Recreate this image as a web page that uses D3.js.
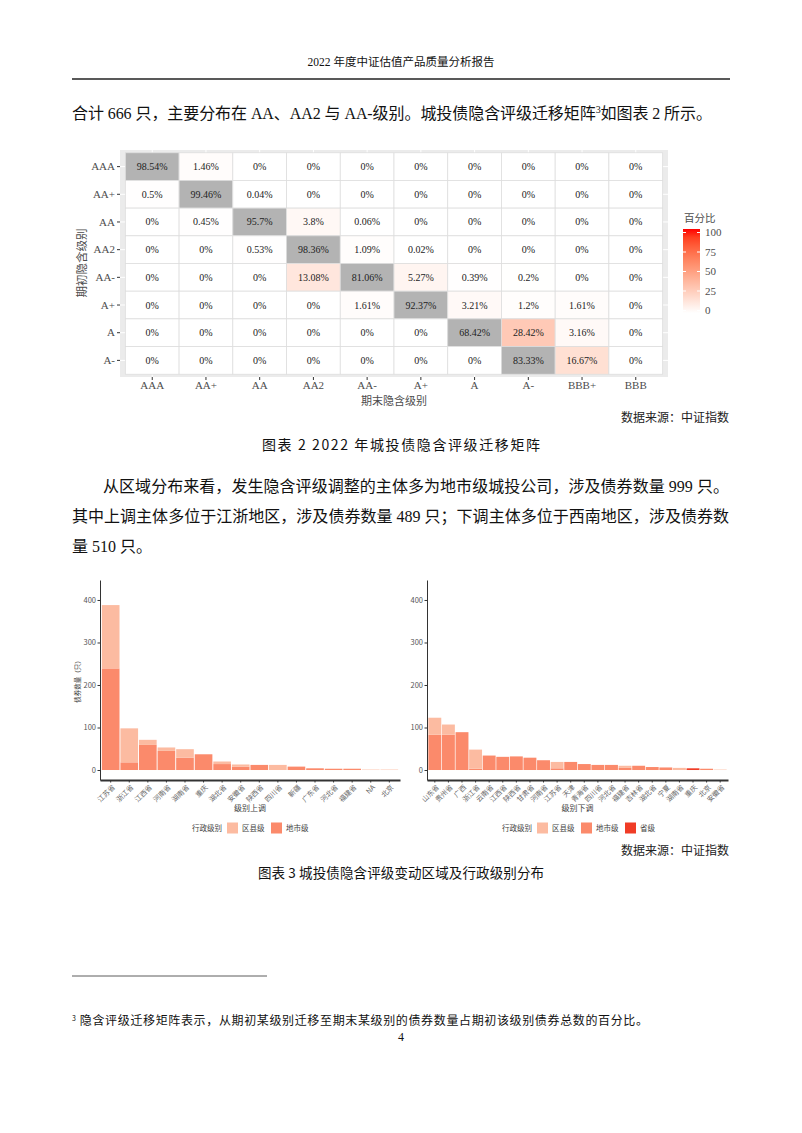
<!DOCTYPE html>
<html><head><meta charset="utf-8">
<script src="https://cdn.jsdelivr.net/npm/d3@7"></script>
<style>body{margin:0;background:#fff} svg{display:block}</style>
</head><body>
<svg id="page" width="802" height="1133"></svg>
<script>
// ---------- data ----------
const rowLevels = ["AAA","AA+","AA","AA2","AA-","A+","A","A-"];
const colLevels = ["AAA","AA+","AA","AA2","AA-","A+","A","A-","BBB+","BBB"];
const migration = [
  [98.54, 1.46, 0, 0, 0, 0, 0, 0, 0, 0],
  [0.5, 99.46, 0.04, 0, 0, 0, 0, 0, 0, 0],
  [0, 0.45, 95.7, 3.8, 0.06, 0, 0, 0, 0, 0],
  [0, 0, 0.53, 98.36, 1.09, 0.02, 0, 0, 0, 0],
  [0, 0, 0, 13.08, 81.06, 5.27, 0.39, 0.2, 0, 0],
  [0, 0, 0, 0, 1.61, 92.37, 3.21, 1.2, 1.61, 0],
  [0, 0, 0, 0, 0, 0, 68.42, 28.42, 3.16, 0],
  [0, 0, 0, 0, 0, 0, 0, 83.33, 16.67, 0]
];
const legendTicks = [0, 25, 50, 75, 100];

const upProvinces = ["江苏省","浙江省","江西省","河南省","湖南省","重庆","湖北省","安徽省","陕西省","四川省","新疆","广东省","河北省","福建省","NA","北京"];
const upCity   = [239, 18, 59, 45, 29, 37, 14, 8, 12, 0, 8, 4, 3, 3, 0, 0];
const upCounty = [149, 80, 12, 8, 20, 0, 6, 5, 0, 12, 0, 0, 0, 0, 1, 1];
const upProv   = [0, 0, 0, 0, 0, 0, 0, 0, 0, 0, 0, 0, 0, 0, 0, 0];

const downProvinces = ["山东省","贵州省","广西","浙江省","云南省","江西省","陕西省","甘肃省","河南省","江苏省","天津","青海省","四川省","河北省","福建省","吉林省","湖北省","宁夏","湖南省","重庆","北京","安徽省"];
const downCity   = [83, 83, 89, 3, 34, 31, 32, 29, 23, 4, 19, 14, 12, 12, 5, 10, 7, 6, 0, 0, 3, 0];
const downCounty = [40, 24, 0, 45, 0, 0, 0, 0, 0, 15, 0, 0, 0, 0, 5, 0, 0, 0, 5, 0, 0, 1];
const downProv   = [0, 0, 0, 0, 0, 0, 0, 0, 0, 0, 0, 0, 0, 0, 0, 0, 0, 0, 0, 4, 0, 0];

const barTicks = [0, 100, 200, 300, 400];
const adminLevels = ["区县级","地市级","省级"];

// ---------- page ----------
const svg = d3.select("#page");
const SERIF = "'Liberation Serif','Noto Sans CJK SC',serif";
const CJK = "'Noto Sans CJK SC','Liberation Serif',sans-serif";

function txt(x, y, s, opt = {}) {
  const t = svg.append("text").attr("x", x).attr("y", y)
    .attr("font-family", opt.family || SERIF)
    .attr("font-size", opt.size || 16)
    .attr("fill", opt.fill || "#111")
    .attr("text-anchor", opt.anchor || "start")
    .text(s);
  if (opt.len) t.attr("textLength", opt.len).attr("lengthAdjust", "spacing");
  return t;
}

txt(401, 66, "2022 年度中证估值产品质量分析报告", {size: 11.5, anchor: "middle"});
svg.append("line").attr("x1", 72).attr("x2", 730).attr("y1", 79).attr("y2", 79)
  .attr("stroke", "#222").attr("stroke-width", 1.3);

const p1 = svg.append("text").attr("x", 72).attr("y", 119)
  .attr("font-family", SERIF).attr("font-size", 16).attr("fill", "#111")
  .attr("textLength", 640).attr("lengthAdjust", "spacing");
p1.append("tspan").text("合计 666 只，主要分布在 AA、AA2 与 AA-级别。城投债隐含评级迁移矩阵");
p1.append("tspan").attr("font-size", 10).attr("dy", -6).text("3");
p1.append("tspan").attr("dy", 6).text("如图表 2 所示。");

// ---------- heatmap ----------
const hx = d3.scaleBand().domain(colLevels).range([120, 668]).paddingOuter(0.1).paddingInner(0);
const hy = d3.scaleBand().domain(rowLevels).range([150, 377]).paddingOuter(0.1).paddingInner(0);
const color = d3.scaleLinear().domain([0, 100]).range(["#ffffff", "#ff0000"]).interpolate(d3.interpolateLab);

const hm = svg.append("g");
hm.append("rect").attr("x", 120).attr("y", 150).attr("width", 548).attr("height", 227).attr("fill", "#ebebeb");
hm.selectAll("line.gx").data(colLevels).join("line")
  .attr("x1", d => hx(d) + hx.bandwidth() / 2).attr("x2", d => hx(d) + hx.bandwidth() / 2)
  .attr("y1", 150).attr("y2", 377).attr("stroke", "#fff").attr("stroke-width", 1);
hm.selectAll("line.gy").data(rowLevels).join("line")
  .attr("y1", d => hy(d) + hy.bandwidth() / 2).attr("y2", d => hy(d) + hy.bandwidth() / 2)
  .attr("x1", 120).attr("x2", 668).attr("stroke", "#fff").attr("stroke-width", 1);

const cells = [];
migration.forEach((row, i) => row.forEach((v, j) => cells.push({r: rowLevels[i], c: colLevels[j], v})));
hm.selectAll("rect.cell").data(cells).join("rect")
  .attr("x", d => hx(d.c)).attr("y", d => hy(d.r))
  .attr("width", hx.bandwidth()).attr("height", hy.bandwidth())
  .attr("fill", d => d.r === d.c ? "#b3b3b3" : color(d.v))
  .attr("stroke", "#dedede").attr("stroke-width", 0.8);
hm.selectAll("text.cell").data(cells).join("text")
  .attr("x", d => hx(d.c) + hx.bandwidth() / 2).attr("y", d => hy(d.r) + hy.bandwidth() / 2)
  .attr("dy", "0.35em").attr("text-anchor", "middle")
  .attr("font-family", SERIF).attr("font-size", 10).attr("fill", "#222")
  .text(d => d.v + "%");

const hyAxis = hm.append("g").attr("transform", "translate(120,0)")
  .call(d3.axisLeft(hy).tickSize(3).tickPadding(2));
const hxAxis = hm.append("g").attr("transform", "translate(0,377)")
  .call(d3.axisBottom(hx).tickSize(3).tickPadding(1));
[hyAxis, hxAxis].forEach(a => {
  a.select(".domain").remove();
  a.selectAll(".tick line").attr("stroke", "#333");
  a.selectAll(".tick text").attr("font-family", SERIF).attr("font-size", 11).attr("fill", "#4d4d4d");
});
txt(394, 405, "期末隐含级别", {family: CJK, size: 11, anchor: "middle", fill: "#4d4d4d"});
txt(0, 0, "期初隐含级别", {family: CJK, size: 11.5, anchor: "middle", fill: "#4d4d4d"})
  .attr("transform", "translate(86,263) rotate(-90)");

// legend
txt(684, 222, "百分比", {family: CJK, size: 10.5, fill: "#4d4d4d"});
const defs = svg.append("defs");
const grad = defs.append("linearGradient").attr("id", "cbar").attr("x1", 0).attr("x2", 0).attr("y1", 1).attr("y2", 0);
d3.range(0, 101, 10).forEach(v => grad.append("stop").attr("offset", v + "%").attr("stop-color", color(v)));
const ly = d3.scaleLinear().domain([0, 100]).range([310, 232]);
svg.append("rect").attr("x", 683).attr("y", 229).attr("width", 17).attr("height", 84).attr("fill", "url(#cbar)");
const lg = svg.append("g").attr("transform", "translate(700,0)")
  .call(d3.axisRight(ly).tickValues(legendTicks).tickSize(0).tickPadding(5));
lg.select(".domain").remove();
lg.selectAll(".tick text").attr("font-family", SERIF).attr("font-size", 11).attr("fill", "#4d4d4d");
lg.selectAll(".tick").append("line").attr("x1", -17).attr("x2", -14).attr("stroke", "#fff");
lg.selectAll(".tick").append("line").attr("x1", -3).attr("x2", 0).attr("stroke", "#fff");

txt(729, 422, "数据来源：中证指数", {family: CJK, size: 12, anchor: "end", fill: "#222"});
txt(401, 450, "图表 2 2022 年城投债隐含评级迁移矩阵", {family: CJK, size: 14, anchor: "middle", len: 278});

// paragraph 2
txt(103, 492, "从区域分布来看，发生隐含评级调整的主体多为地市级城投公司，涉及债券数量 999 只。", {len: 626});
txt(72, 522, "其中上调主体多位于江浙地区，涉及债券数量 489 只；下调主体多位于西南地区，涉及债券数", {len: 657});
txt(72, 552, "量 510 只。");

// ---------- bar charts ----------
const yB = d3.scaleLinear().domain([-23.5, 447]).range([780, 580]);
const fillAdmin = {"区县级": "#fcbba1", "地市级": "#fb8a6b", "省级": "#f03c26"};
const stackKeys = ["省级", "地市级", "区县级"];

function barChart(provs, city, county, prov, x0, x1, yTitle, xTitle, legendX, showProv) {
  const rows = provs.map((p, i) => ({name: p, "区县级": county[i], "地市级": city[i], "省级": prov[i]}));
  const xs = d3.scaleBand().domain(provs).range([x0, x1]).paddingInner(0.05).paddingOuter(0.1);
  const series = d3.stack().keys(stackKeys)(rows);
  const g = svg.append("g");
  g.selectAll("g.s").data(series).join("g").attr("fill", s => fillAdmin[s.key])
    .selectAll("rect").data(s => s).join("rect")
    .attr("x", d => xs(d.data.name)).attr("width", xs.bandwidth())
    .attr("y", d => yB(d[1])).attr("height", d => Math.max(0, yB(d[0]) - yB(d[1])));
  const ya = g.append("g").attr("transform", `translate(${x0},0)`)
    .call(d3.axisLeft(yB).tickValues(barTicks).tickSize(2.5).tickSizeOuter(0).tickPadding(1.5));
  ya.select(".domain").attr("stroke", "#333").attr("stroke-width", 1);
  ya.selectAll(".tick line").attr("stroke", "#333");
  ya.selectAll(".tick text").attr("font-family", CJK).attr("font-size", 7.5).attr("fill", "#555");
  const xa = g.append("g").attr("transform", "translate(0,780)")
    .call(d3.axisBottom(xs).tickSize(2.5).tickSizeOuter(0));
  xa.select(".domain").attr("stroke", "#333").attr("stroke-width", 2);
  xa.selectAll(".tick line").attr("stroke", "#333");
  xa.selectAll(".tick text").attr("font-family", CJK).attr("font-size", 7).attr("fill", "#666")
    .attr("x", 0).attr("y", 0).attr("dy", "0.35em").attr("text-anchor", "end")
    .attr("transform", "translate(3,6) rotate(-45)");
  if (yTitle) txt(0, 0, yTitle, {family: CJK, size: 6.5, anchor: "middle", fill: "#333"})
    .attr("transform", `translate(80,680) rotate(-90)`);
  txt((x0 + x1) / 2, 811, xTitle, {family: CJK, size: 8, anchor: "middle", fill: "#444"});
  // legend
  const lv = showProv ? adminLevels : adminLevels.slice(0, 2);
  const lgG = g.append("g").attr("transform", `translate(${legendX},828)`);
  lgG.append("text").attr("x", 0).attr("y", 0).attr("dy", "0.35em").attr("font-family", CJK)
    .attr("font-size", 7.5).attr("fill", "#444").text("行政级别");
  let cx = 35;
  lv.forEach(k => {
    lgG.append("rect").attr("x", cx).attr("y", -5.5).attr("width", 11).attr("height", 11).attr("fill", fillAdmin[k]);
    lgG.append("text").attr("x", cx + 15).attr("y", 0).attr("dy", "0.35em").attr("font-family", CJK)
      .attr("font-size", 7.5).attr("fill", "#444").text(k);
    cx += 15 + (k === "省级" ? 16 : 24) + 5;
  });
}
barChart(upProvinces, upCity, upCounty, upProv, 100, 400, "债券数量（只）", "级别上调", 192, false);
barChart(downProvinces, downCity, downCounty, downProv, 427, 728, null, "级别下调", 502, true);

txt(729, 855, "数据来源：中证指数", {family: CJK, size: 12, anchor: "end", fill: "#222"});
txt(401, 878, "图表 3 城投债隐含评级变动区域及行政级别分布", {family: CJK, size: 13.5, anchor: "middle", len: 286});

// footnote
svg.append("line").attr("x1", 72).attr("x2", 267).attr("y1", 976).attr("y2", 976).attr("stroke", "#333").attr("stroke-width", 0.8);
const fn = svg.append("text").attr("x", 72).attr("y", 1025).attr("font-family", CJK).attr("font-size", 12).attr("fill", "#111")
  .attr("textLength", 576).attr("lengthAdjust", "spacing");
fn.append("tspan").attr("font-size", 7).attr("dy", -4).text("3");
fn.append("tspan").attr("dy", 4).text(" 隐含评级迁移矩阵表示，从期初某级别迁移至期末某级别的债券数量占期初该级别债券总数的百分比。");
txt(401, 1041, "4", {size: 12, anchor: "middle"});
</script>
</body></html>
